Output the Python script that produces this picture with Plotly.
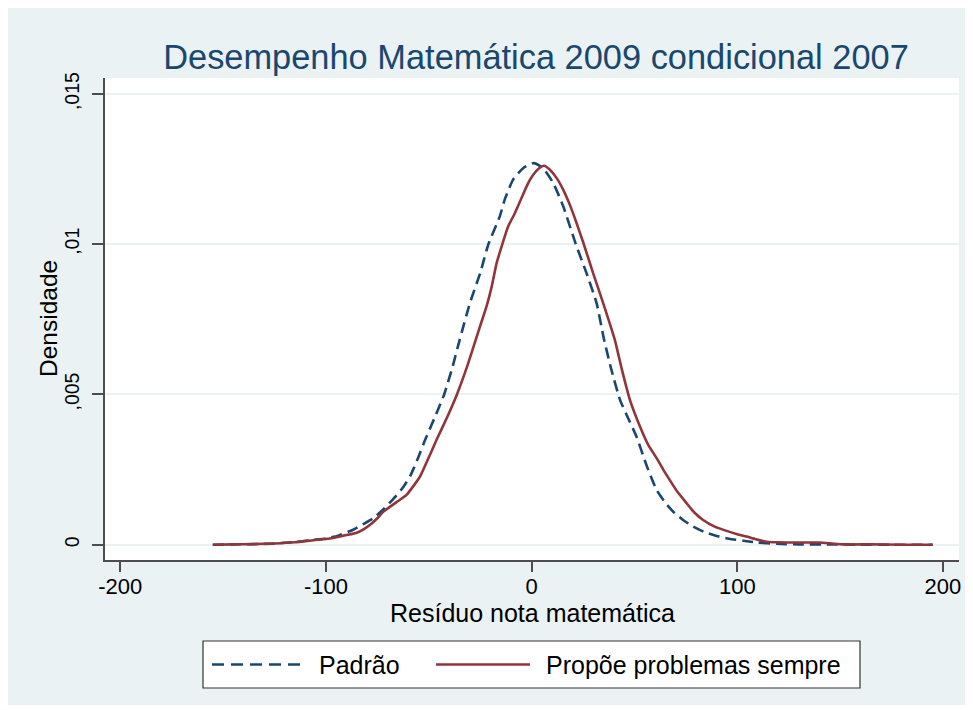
import plotly.graph_objects as go

# ---------------- data ----------------
padrao_x = [-155, -145, -135, -125, -115, -106, -100, -94, -87, -82, -77, -72, -67, -63, -61, -59,
            -57, -55, -52, -47, -42.5, -38.5, -35, -30, -25, -21, -15.5, -13, -9, -4, 1,
            5.5, 10.5, 15.4, 21.5, 26.7, 31.6, 35, 38.5, 43, 47, 51, 56, 60.8, 65, 68.8,
            73.5, 78.6, 84, 90, 96, 103, 110, 119, 130, 145, 160, 175, 195]
padrao_y = [0.0, 0.00001, 0.00002, 0.00004, 0.00009, 0.00016, 0.00021, 0.00030, 0.00049, 0.00068,
            0.00088, 0.00118, 0.00154, 0.00186, 0.00206, 0.00229,
            0.00259, 0.00292, 0.00345, 0.00425, 0.00500, 0.00590, 0.00681, 0.00804, 0.00904, 0.01000,
            0.01092, 0.01150, 0.01215, 0.01254, 0.01270,
            0.01254, 0.01204, 0.01126, 0.01000, 0.00904, 0.00804, 0.00690, 0.00590, 0.00482,
            0.00420, 0.00360, 0.00262, 0.00182, 0.00140, 0.00110,
            0.00083, 0.00060, 0.00042, 0.00029, 0.00020, 0.00013, 0.00007, 0.00003, 0.00001,
            0.00001, 0.0, 0.0, 0.0]

sempre_x = [-155, -145, -135, -125, -115, -106, -100, -95, -90, -85, -81.5, -78.5, -75, -72,
            -66, -60.8, -54.3, -50, -46.2, -41, -36.3, -31.5, -27.2, -25.1, -21.9, -19.4, -17,
            -14.6, -11.4, -8.1, -4.9, -1.6, 0.8, 3.5, 6.1, 8.9, 12.2, 15.4, 18.6, 21.9, 25.4,
            29.9, 34.8, 40.5, 44, 47.8, 52.7, 56.5, 60.8, 64, 67.2, 71, 75.4, 79, 83.4, 89,
            94.8, 100, 104.5, 109, 114.2, 120, 127, 133, 140, 146, 151.5, 165, 180, 195]
sempre_y = [0.0, 0.00001, 0.00002, 0.00004, 0.00008, 0.00015, 0.00019, 0.00025, 0.00032, 0.00040,
            0.00052, 0.00066, 0.00088, 0.00110,
            0.00140, 0.00166, 0.00226, 0.00290, 0.00349, 0.00425, 0.00500, 0.00590, 0.00681,
            0.00726, 0.00793, 0.00859, 0.00937,
            0.00992, 0.01059, 0.01104, 0.01154, 0.01204, 0.01231, 0.01252, 0.01261, 0.01248,
            0.01220, 0.01181, 0.01131, 0.01070, 0.01000,
            0.00904, 0.00804, 0.00681, 0.00580, 0.00482, 0.00393, 0.00335, 0.00288, 0.00250,
            0.00215, 0.00175, 0.00138, 0.00108, 0.00082, 0.00060,
            0.00046, 0.00035, 0.00027, 0.00018, 0.00010, 0.00008, 0.00007, 0.00007, 0.00007,
            0.00004, 0.00001, 0.00001, 0.0, 0.0]

series_names = ["Padrão", "Propõe problemas sempre"]
x_ticks = [-200, -100, 0, 100, 200]
x_ticktext = ["-200", "-100", "0", "100", "200"]
y_ticks = [0, 0.005, 0.01, 0.015]
y_ticktext = ["0", ",005", ",01", ",015"]

title_text = "Desempenho Matemática 2009 condicional 2007"
x_title = "Resíduo nota matemática"
y_title = "Densidade"

# ---------------- styling ----------------
OFF = 8                      # page body margin seen in the screenshot
W, H = 965, 697
ML, MT = 97, 70
PW, PH = 854, 482
MR, MB = W - ML - PW, H - MT - PH
BG = "#eaf2f3"
NAVY = "#1a476f"
MAROON = "#90353b"
FONT = "Liberation Sans, Arial, sans-serif"
AXC = "#4d4d4d"


def px(xs):
    """screen x (px) -> paper x"""
    return (xs - OFF - ML) / PW


def py(ys):
    """screen y (px) -> paper y"""
    return (OFF + MT + PH - ys) / PH


fig = go.Figure()
fig.add_trace(go.Scatter(x=padrao_x, y=padrao_y, mode="lines", name=series_names[0],
                         line=dict(color=NAVY, width=2.6, dash="11px,6px", shape="spline",
                                   smoothing=0.5),
                         showlegend=False))
fig.add_trace(go.Scatter(x=sempre_x, y=sempre_y, mode="lines", name=series_names[1],
                         line=dict(color=MAROON, width=2.6, shape="spline", smoothing=0.5),
                         showlegend=False))

shapes = []
# legend box (custom, to reproduce long line samples)
LY = 664.5
shapes.append(dict(type="rect", xref="paper", yref="paper", x0=px(203), x1=px(860), y0=py(688), y1=py(641),
                   fillcolor="white", line=dict(color="#333333", width=1.2)))
shapes.append(dict(type="line", xref="paper", yref="paper", x0=px(212), x1=px(306), y0=py(LY), y1=py(LY),
                   line=dict(color=NAVY, width=2.6, dash="12px,7px")))
shapes.append(dict(type="line", xref="paper", yref="paper", x0=px(436), x1=px(530), y0=py(LY), y1=py(LY),
                   line=dict(color=MAROON, width=2.6)))

annotations = [
    dict(text=series_names[0], xref="paper", yref="paper", x=px(317), y=py(LY), xanchor="left",
         yanchor="middle", showarrow=False, font=dict(family=FONT, size=25, color="black")),
    dict(text=series_names[1], xref="paper", yref="paper", x=px(544), y=py(LY), xanchor="left",
         yanchor="middle", showarrow=False, font=dict(family=FONT, size=25, color="black")),
    dict(text=x_title, xref="paper", yref="paper", x=px(532), y=py(613), xanchor="center",
         yanchor="middle", showarrow=False, font=dict(family=FONT, size=25, color="black")),
    dict(text=y_title, xref="paper", yref="paper", x=px(48), y=py(318), xanchor="center",
         yanchor="middle", textangle=-90, showarrow=False,
         font=dict(family=FONT, size=24.5, color="black")),
]

fig.update_layout(
    width=W, height=H,
    margin=dict(l=ML, r=MR, t=MT, b=MB, pad=0),
    paper_bgcolor=BG, plot_bgcolor="white",
    font=dict(family=FONT, color="black"),
    title=dict(text=title_text, x=px(536), xref="paper", xanchor="center",
               y=1 - (57 - OFF) / H, yref="container", yanchor="middle",
               font=dict(family=FONT, size=34.4, color=NAVY)),
    shapes=shapes, annotations=annotations,
    showlegend=False,
    xaxis=dict(range=[-207.4, 207.8], tickvals=x_ticks, ticktext=x_ticktext,
               ticks="outside", ticklen=10, tickwidth=1.5, tickcolor=AXC,
               showline=True, linecolor=AXC, linewidth=2, showgrid=False, zeroline=False,
               ticklabelstandoff=-4,
               tickfont=dict(family=FONT, size=22, color="black"), fixedrange=True),
    yaxis=dict(range=[-0.00051, 0.015533], tickvals=y_ticks, ticktext=y_ticktext,
               ticks="outside", ticklen=11, tickwidth=1.5, tickcolor=AXC,
               showline=True, linecolor=AXC, linewidth=2,
               showgrid=True, gridcolor=BG, gridwidth=2, zeroline=False, tickangle=-90,
               ticklabelstandoff=5,
               tickfont=dict(family=FONT, size=19.5, color="black"), fixedrange=True),
)

fig.write_html("out.html")
